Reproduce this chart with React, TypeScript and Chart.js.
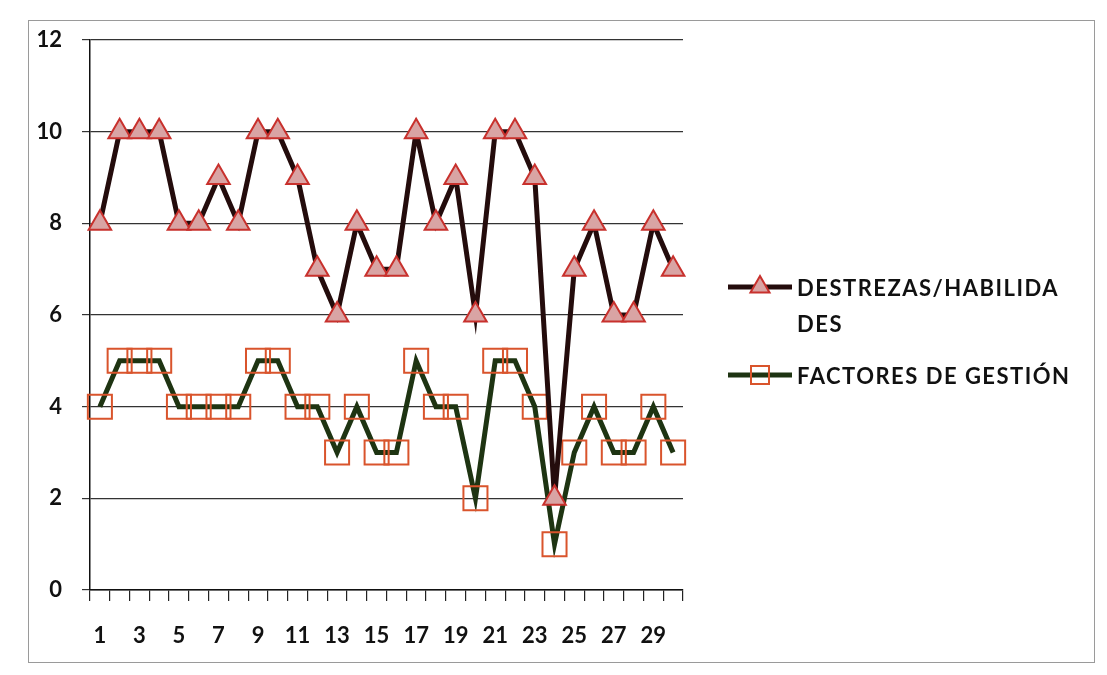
import React, { useEffect, useRef } from "react";
import { Chart, registerables } from "chart.js";

Chart.register(...registerables);

const categories = [
  "1", "2", "3", "4", "5", "6", "7", "8", "9", "10",
  "11", "12", "13", "14", "15", "16", "17", "18", "19", "20",
  "21", "22", "23", "24", "25", "26", "27", "28", "29", "30",
];
const destrezas = [8, 10, 10, 10, 8, 8, 9, 8, 10, 10, 9, 7, 6, 8, 7, 7, 10, 8, 9, 6, 10, 10, 9, 2, 7, 8, 6, 6, 8, 7];
const factores = [4, 5, 5, 5, 4, 4, 4, 4, 5, 5, 4, 4, 3, 4, 3, 3, 5, 4, 4, 2, 5, 5, 4, 1, 3, 4, 3, 3, 4, 3];
const seriesNames = ["DESTREZAS/HABILIDADES", "FACTORES DE GESTIÓN"];
const legendLines = [["DESTREZAS/HABILIDA", "DES"], ["FACTORES DE GESTIÓN"]];
const yMin = 0;
const yMax = 12;
const yStep = 2;

const FONT = "Lato, 'Open Sans', sans-serif";

const S1_LINE = "#240c0c";
const S1_FILL = "#d9a4a4";
const S1_EDGE = "#c8312d";
const S2_LINE = "#1e3412";
const S2_EDGE = "#d9542c";

const frameAndLegend = {
  id: "frameAndLegend",
  afterDraw(chart: any) {
    const ctx = chart.ctx as CanvasRenderingContext2D;
    ctx.save();
    // outer frame of chart object
    ctx.strokeStyle = "#9a9a9a";
    ctx.lineWidth = 1;
    ctx.strokeRect(28.5, 20.5, 1066, 642);

    // legend
    const rows = [
      { y: 287, lines: legendLines[0], kind: "tri" },
      { y: 375, lines: legendLines[1], kind: "rect" },
    ];
    for (const r of rows) {
      const x0 = 728, x1 = 792, xm = (x0 + x1) / 2;
      ctx.beginPath();
      ctx.moveTo(x0, r.y);
      ctx.lineTo(x1, r.y);
      ctx.lineWidth = 5;
      ctx.strokeStyle = r.kind === "tri" ? S1_LINE : S2_LINE;
      ctx.stroke();
      if (r.kind === "tri") {
        const rad = 11;
        ctx.beginPath();
        ctx.moveTo(xm, r.y - rad);
        ctx.lineTo(xm + rad * 0.866, r.y + rad * 0.5);
        ctx.lineTo(xm - rad * 0.866, r.y + rad * 0.5);
        ctx.closePath();
        ctx.fillStyle = S1_FILL;
        ctx.fill();
        ctx.lineWidth = 2;
        ctx.strokeStyle = S1_EDGE;
        ctx.stroke();
      } else {
        ctx.lineWidth = 2;
        ctx.strokeStyle = S2_EDGE;
        ctx.strokeRect(xm - 9, r.y - 9, 18, 18);
      }
      ctx.fillStyle = "#111";
      ctx.font = `bold 22px ${FONT}`;
      (ctx as any).letterSpacing = "1.5px";
      ctx.textBaseline = "middle";
      ctx.textAlign = "left";
      r.lines.forEach((t: string, i: number) => {
        ctx.fillText(t, 797, r.y + 2 + i * 36);
      });
    }
    ctx.restore();
  },
};

export default function App() {
  const ref = useRef<HTMLCanvasElement | null>(null);

  useEffect(() => {
    if (!ref.current) return;
    const chart = new Chart(ref.current, {
      type: "line",
      data: {
        labels: categories,
        datasets: [
          {
            label: seriesNames[0],
            data: destrezas,
            borderColor: S1_LINE,
            borderWidth: 5,
            pointStyle: "triangle",
            pointRadius: 13,
            pointBackgroundColor: S1_FILL,
            pointBorderColor: S1_EDGE,
            pointBorderWidth: 2,
            tension: 0,
          },
          {
            label: seriesNames[1],
            data: factores,
            borderColor: S2_LINE,
            borderWidth: 5,
            pointStyle: "rect",
            pointRadius: 17,
            pointBackgroundColor: "rgba(255,255,255,0)",
            pointBorderColor: S2_EDGE,
            pointBorderWidth: 2,
            tension: 0,
          },
        ],
      },
      options: {
        responsive: false,
        animation: false,
        layout: { padding: { left: 0, top: 40, right: 424, bottom: 0 } },
        plugins: {
          legend: { display: false },
          tooltip: { enabled: false },
        },
        scales: {
          x: {
            type: "category",
            offset: true,
            grid: {
              display: true,
              drawOnChartArea: false,
              offset: true,
              tickLength: 11,
              color: "#222",
              lineWidth: 1.2,
            },
            border: { color: "#111", width: 1.5 },
            ticks: {
              autoSkip: false,
              maxRotation: 0,
              minRotation: 0,
              padding: 22,
              color: "#111",
              font: { family: FONT, size: 22, weight: "bold" },
              callback: (_v: any, i: number) => (i % 2 === 0 ? categories[i] : ""),
            },
            afterFit: (s: any) => {
              s.height = 85;
            },
          },
          y: {
            min: yMin,
            max: yMax,
            grid: {
              color: "#333",
              lineWidth: 1.2,
              tickLength: 8,
            },
            border: { color: "#111", width: 1.5 },
            ticks: {
              stepSize: yStep,
              padding: 20,
              color: "#111",
              font: { family: FONT, size: 22, weight: "bold" },
            },
            afterFit: (s: any) => {
              s.width = 90;
            },
          },
        },
      },
      plugins: [frameAndLegend],
    });
    return () => chart.destroy();
  }, []);

  return (
    <div style={{ position: "absolute", left: 0, top: 0, width: 1107, height: 675, background: "#fff" }}>
      <canvas ref={ref} width={1107} height={675} style={{ display: "block" }} />
    </div>
  );
}
